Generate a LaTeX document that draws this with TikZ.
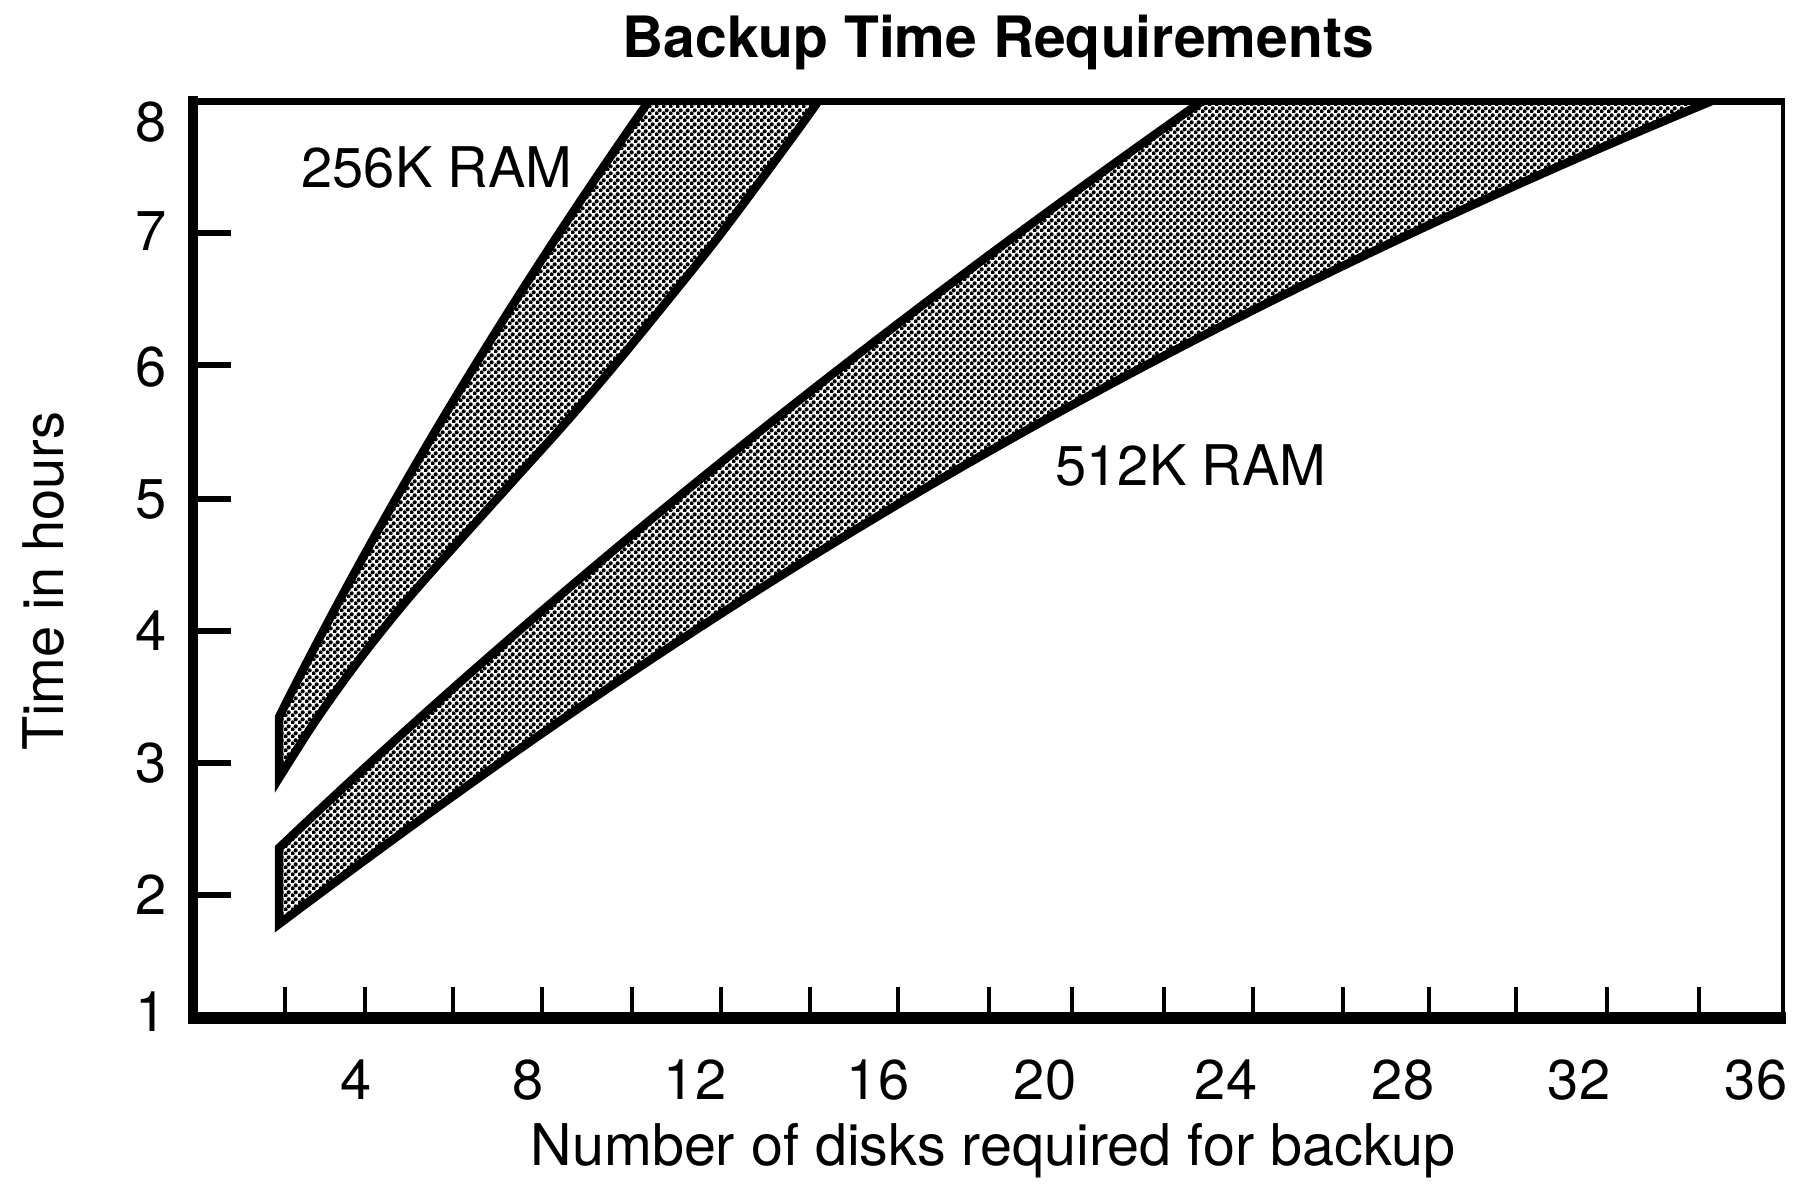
\documentclass[tikz,border=0pt]{standalone}
\usepackage{fontspec}
\setmainfont{TeX Gyre Heros}
\usetikzlibrary{patterns.meta}
\tikzdeclarepattern{
  name=halftone,
  type=uncolored,
  bounding box={(0pt,0pt) and (6.6pt,6.6pt)},
  tile size={(6.6pt,6.6pt)},
  code={
    \pgfpathcircle{\pgfqpoint{1.65pt}{1.65pt}}{2.2pt}
    \pgfpathcircle{\pgfqpoint{4.95pt}{4.95pt}}{2.2pt}
    \pgfusepath{fill}
  }
}
\begin{document}
\begin{tikzpicture}[x=1pt,y=-1pt,
  lbl/.style={font=\fontsize{56}{60}\selectfont, inner sep=0pt},
  band/.style={pattern=halftone, pattern color=black, draw=black, line width=8.5pt, line join=miter, miter limit=6},
  tickx/.style={line width=4pt},
  ticky/.style={line width=6pt}]
\useasboundingbox (0,0) rectangle (1800,1189);
\fill[white] (0,0) rectangle (1800,1189);

% shaded bands
\begin{scope}
\clip (193,101) rectangle (1783,1018);
% 256K RAM
\draw[band]
  plot[domain=0:6.4, samples=60, variable=\t] ({279+50*\t+1.63*\t*\t}, {717-100*\t})
  -- plot[smooth] coordinates {(833,80) (805,120) (761,180) (716,240) (668,300) (619,360) (568,420) (514,480) (460,540) (407,600) (359,660) (316,720) (279,778)}
  -- cycle;
% 512K RAM
\draw[band]
  plot[domain=0:7.8, samples=60, variable=\t] ({279+105*\t+2.49*\t*\t}, {848-100*\t})
  -- plot[domain=8.6:0, samples=70, variable=\t] ({279+132.04*\t+1.702*\t*\t+0.381*\t*\t*\t}, {924-99.07*\t})
  -- cycle;
\end{scope}

% frame
\draw[line width=7pt] (188,101) -- (1785,101);
\draw[line width=4.5pt] (1783,98) -- (1783,1018);
\draw[line width=10pt] (193,96) -- (193,1024);
\draw[line width=12pt] (188,1018) -- (1786,1018);

% ticks
\foreach \x in {285,365,453,542,632,721,810,898,989,1072,1164,1253,1343,1429,1516,1607,1699}
  \draw[tickx] (\x,1013) -- (\x,987);
\foreach \y in {233,365,499,631,763,895}
  \draw[ticky] (196,\y) -- (231,\y);

% tick labels
\foreach \v/\y in {8/122,7/231,6/367,5/499,4/631,3/763,2/895,1/1012}
  \node[lbl] (ylab\v) at (151,\y) {\v};
\foreach \v/\x in {4/356,8/528,12/695,16/878,20/1045,24/1226,28/1403,32/1579,36/1756}
  \node[lbl] (xlab\v) at (\x,1080) {\v};

% titles
\node[lbl, font=\fontsize{57}{60}\selectfont\bfseries, anchor=base] (title) at (998,57) {Backup Time Requirements};
\node[lbl, rotate=90, anchor=base] (ytitle) at (63,581) {Time in hours};
\node[lbl, font=\fontsize{57.5}{60}\selectfont, anchor=base] (xtitle) at (993,1165) {Number of disks required for backup};

% band labels
\node[lbl, anchor=base] (ram256) at (437,187) {256K RAM};
\node[lbl, anchor=base] (ram512) at (1191,485) {512K RAM};
\end{tikzpicture}
\end{document}
